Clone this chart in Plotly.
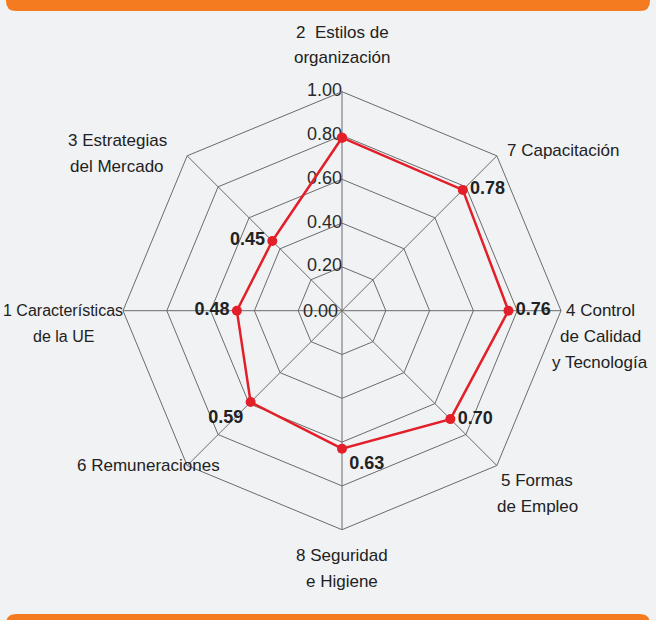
import plotly.graph_objects as go

categories = ["2 Estilos de organización", "7 Capacitación", "4 Control de Calidad y Tecnología",
              "5 Formas de Empleo", "8 Seguridad e Higiene", "6 Remuneraciones",
              "1 Características de la UE", "3 Estrategias del Mercado"]
values = [0.79, 0.78, 0.76, 0.70, 0.63, 0.59, 0.48, 0.45]
value_labels = ["", "0.78", "0.76", "0.70", "0.63", "0.59", "0.48", "0.45"]
label_lines = [["2  Estilos de", "organización"], ["7 Capacitación"],
               ["4 Control", "de Calidad", "y Tecnología"], ["5 Formas", "de Empleo"],
               ["8 Seguridad", "e Higiene"], ["6 Remuneraciones"],
               ["1 Características", "de la UE"], ["3 Estrategias", "del Mercado"]]
tick_vals = [0, 0.2, 0.4, 0.6, 0.8, 1.0]
tick_text = ["0.00", "0.20", "0.40", "0.60", "0.80", "1.00"]

W, H = 656, 620
FONT = "Liberation Sans Narrow, Liberation Sans, Arial, sans-serif"
BG = "#f1f2f4"
ORANGE = "#f47b20"
RED = "#e3202a"
GRID = "#6b6b6b"

text_pos = ["top center", "middle right", "middle right", "middle right",
            "bottom right", "bottom left", "middle left", "middle left"]

fig = go.Figure()
# radial tick labels, placed through the polar scale on the top spoke
fig.add_trace(go.Scatterpolar(
    r=tick_vals[1:], theta=[categories[0]] * (len(tick_vals) - 1),
    mode="text", text=tick_text[1:], textposition="middle left",
    textfont=dict(family=FONT, size=18, color="#2a2a2a"),
    cliponaxis=False, hoverinfo="skip", showlegend=False,
))
fig.add_trace(go.Scatterpolar(
    r=values + [values[0]], theta=categories + [categories[0]],
    mode="lines+markers+text",
    line=dict(color=RED, width=2.5),
    marker=dict(color=RED, size=10),
    text=["<b>%s</b>" % t if t else "" for t in value_labels] + [""],
    textposition=text_pos + ["top center"],
    textfont=dict(family=FONT, size=18, color="#222222"),
    cliponaxis=False, hoverinfo="skip", showlegend=False,
))

cx, cy, R = 342, 310.7, 219
fig.update_layout(
    width=W, height=H, margin=dict(l=0, r=0, t=0, b=0),
    paper_bgcolor=BG, plot_bgcolor=BG,
    font=dict(family=FONT, color="#222222"),
    polar=dict(
        bgcolor=BG,
        domain=dict(x=[(cx - R) / W, (cx + R) / W], y=[1 - (cy + R) / H, 1 - (cy - R) / H]),
        gridshape="linear",
        radialaxis=dict(range=[0, 1], tickvals=tick_vals[1:], angle=90,
                        showticklabels=False, showline=False, ticks="",
                        gridcolor=GRID, gridwidth=1),
        angularaxis=dict(rotation=90, direction="clockwise", showticklabels=False, ticks="",
                         gridcolor=GRID, gridwidth=1, linecolor=GRID, linewidth=1),
    ),
)

# 0.00 label at the centre of the polar area
fig.add_annotation(x=(cx - 2) / W, y=1 - cy / H, xref="paper", yref="paper",
                   text=tick_text[0], showarrow=False, xanchor="right", yanchor="middle",
                   font=dict(family=FONT, size=18, color="#2a2a2a"))

# category labels (one annotation per line for leading control)
label_anchor = [(342, 32), (563, 150), (600, 310), (537, 480), (342, 555), (148, 465), (63, 310), (117, 140)]
label_size = [17, 17, 17, 17, 17, 17, 16, 17]
lead = 26
for lines, (lx, ly), fs in zip(label_lines, label_anchor, label_size):
    for i, ln in enumerate(lines):
        fig.add_annotation(x=lx / W, y=1 - (ly + i * lead) / H, xref="paper", yref="paper",
                           text=ln, showarrow=False, xanchor="center", yanchor="middle",
                           font=dict(family=FONT, size=fs, color="#222222"))

# orange bars
X = lambda v: v / W
Y = lambda v: 1 - v / H
top_bar = (f"M {X(6)} {Y(-5)} L {X(650)} {Y(-5)} L {X(650)} {Y(1)} "
           f"Q {X(650)} {Y(11)} {X(640)} {Y(11)} L {X(16)} {Y(11)} "
           f"Q {X(6)} {Y(11)} {X(6)} {Y(1)} Z")
bot_bar = (f"M {X(6)} {Y(625)} L {X(650)} {Y(625)} L {X(650)} {Y(624)} "
           f"Q {X(650)} {Y(614)} {X(640)} {Y(614)} L {X(16)} {Y(614)} "
           f"Q {X(6)} {Y(614)} {X(6)} {Y(624)} Z")
fig.add_shape(type="path", xref="paper", yref="paper", path=top_bar,
              fillcolor=ORANGE, line=dict(width=0), layer="above")
fig.add_shape(type="path", xref="paper", yref="paper", path=bot_bar,
              fillcolor=ORANGE, line=dict(width=0), layer="above")

fig.write_html("out.html", config={"displayModeBar": False},
               post_script="document.body.style.margin='0';document.body.style.overflow='hidden';")
